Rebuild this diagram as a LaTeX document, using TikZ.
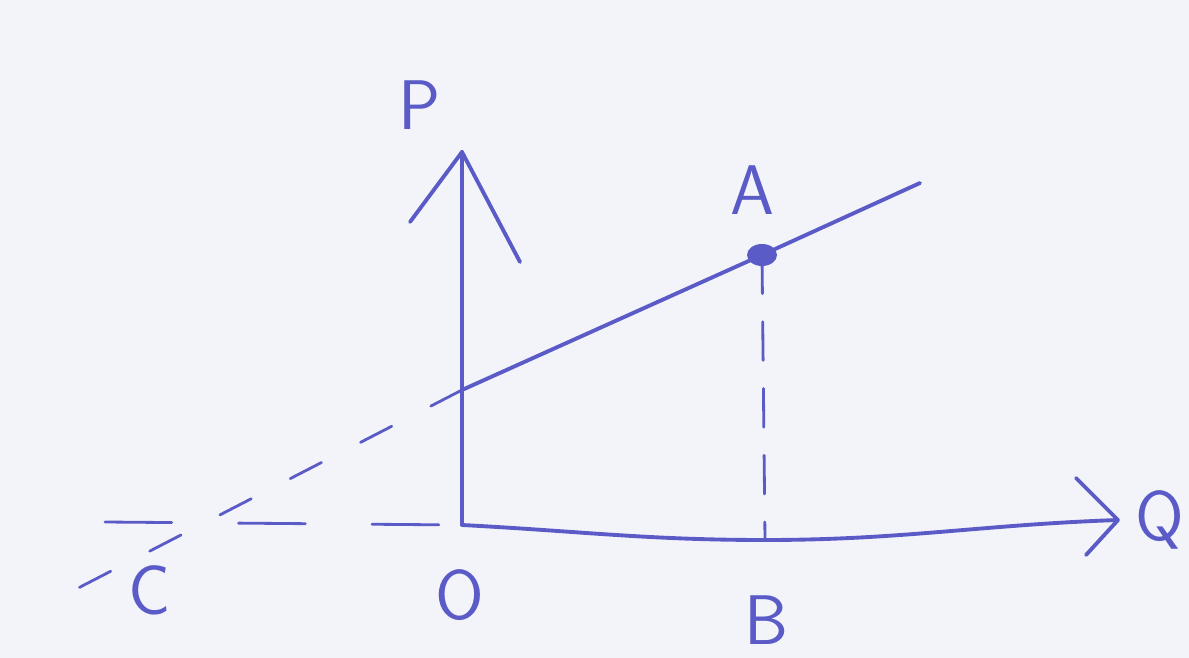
\documentclass[tikz,border=0pt]{standalone}
\usepackage{tikz}
\definecolor{ink}{HTML}{5B5BC8}
\definecolor{paper}{HTML}{F3F4FA}
\begin{document}
\begin{tikzpicture}[x=0.02cm,y=-0.02cm,
  pen/.style={draw=ink,line width=2.2pt,line cap=round,line join=round},
  thinpen/.style={draw=ink,line width=1.6pt,line cap=round},
  lbl/.style={text=ink,font=\fontsize{40}{40}\selectfont\sffamily,inner sep=0pt}]
\fill[paper] (0,0) rectangle (1189,658);
\useasboundingbox (0,0) rectangle (1189,658);
% points
\coordinate (O) at (462,525);
\coordinate (Ptop) at (462,152);
\coordinate (Qend) at (1118,520);
\coordinate (K) at (462,390);
\coordinate (Aend) at (920,183);
\coordinate (A) at (762,255);
\coordinate (Bf) at (765,540);
\coordinate (Cend) at (55,600);
% axes
\draw[pen] (O) -- (Ptop);
\draw[pen] (410,222) -- (Ptop) -- (520,262);
\draw[pen] (O) to[out=-3,in=180] (765,540) to[out=0,in=182] (Qend);
\draw[pen] (1076,478) -- (Qend) -- (1086,555);
% line through A
\draw[pen] (K) -- (A) -- (Aend);
\fill[ink] (A) ellipse (15 and 11);
% dashed projection
\draw[thinpen,dash pattern=on 22pt off 16pt] (A) -- (Bf);
% dashed extensions
\draw[thinpen,dash pattern=on 20pt off 25pt] (K) -- (Cend);
\draw[thinpen,dash pattern=on 38pt off 38pt] (105,522) -- (O);
% labels
\node[lbl] (Pl) at (420,105) {P};
\node[lbl] (Ql) at (1160,520) {Q};
\node[lbl] (Al) at (752,190) {A};
\node[lbl] (Bl) at (766,620) {B};
\node[lbl] (Ol) at (460,595) {O};
\node[lbl] (Cl) at (150,590) {C};
\end{tikzpicture}
\end{document}
